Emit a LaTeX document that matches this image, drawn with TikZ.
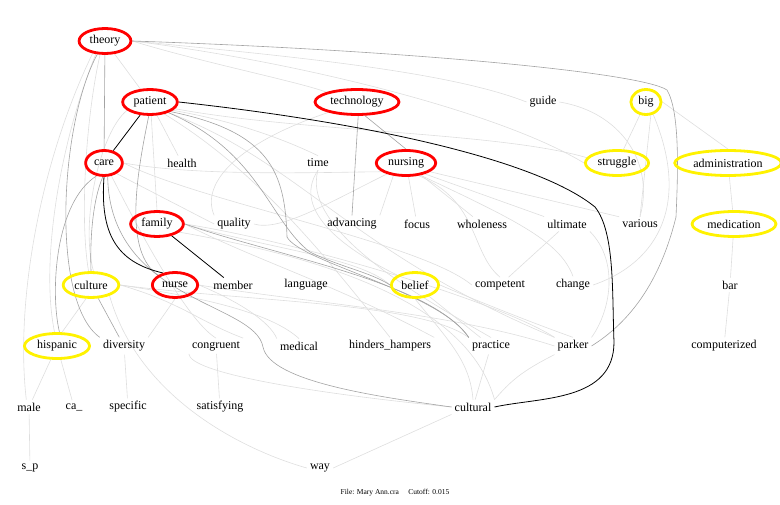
\documentclass[tikz,border=0pt]{standalone}
\usepackage{fontspec}
\setmainfont{Liberation Serif}
\usetikzlibrary{shapes.geometric,backgrounds}
\tikzset{
  word/.style={font=\fontsize{12}{14}\selectfont, inner sep=3pt},
  hot/.style={word, ellipse, draw=red, line width=2.8pt, minimum height=25pt},
  warm/.style={word, ellipse, draw=yellow, line width=2.8pt, minimum height=25pt},
  strong/.style={draw=black, line width=0.8pt},
  mid/.style={draw=black!36, line width=0.6pt},
  weak/.style={draw=black!13, line width=0.6pt},
}
\begin{document}
\begin{tikzpicture}[x=1pt,y=-1pt]
\useasboundingbox (0,-2) rectangle (780,503);
% row 1
\node[hot] (theory) at (105,39) {theory};
% row 2
\node[hot] (patient) at (150,100) {patient};
\node[hot] (technology) at (357,100) {technology};
\node[word] (guide) at (543,100) {guide};
\node[warm] (big) at (646,100) {big};
% row 3
\node[hot] (care) at (104,161) {care};
\node[word] (health) at (182,161) {health};
\node[word] (time) at (318,161) {time};
\node[hot] (nursing) at (406,161) {nursing};
\node[warm] (struggle) at (617,161) {struggle};
\node[warm] (administration) at (728,161) {administration};
% row 4
\node[hot] (family) at (157,222) {family};
\node[word] (quality) at (234,222) {quality};
\node[word] (advancing) at (352,222) {advancing};
\node[word] (focus) at (417,222) {focus};
\node[word] (wholeness) at (482,222) {wholeness};
\node[word] (ultimate) at (567,222) {ultimate};
\node[word] (various) at (640,222) {various};
\node[warm] (medication) at (734,222) {medication};
% row 5
\node[warm] (culture) at (91,283) {culture};
\node[hot] (nurse) at (175,283) {nurse};
\node[word] (member) at (233,283) {member};
\node[word] (language) at (306,283) {language};
\node[warm] (belief) at (415,283) {belief};
\node[word] (competent) at (500,283) {competent};
\node[word] (change) at (573,283) {change};
\node[word] (bar) at (730,283) {bar};
% row 6
\node[warm] (hispanic) at (57,344) {hispanic};
\node[word] (diversity) at (124,344) {diversity};
\node[word] (congruent) at (216,344) {congruent};
\node[word] (medical) at (299,344) {medical};
\node[word] (hinders) at (390,344) {hinders\_hampers};
\node[word] (practice) at (491,344) {practice};
\node[word] (parker) at (573,344) {parker};
\node[word] (computerized) at (724,344) {computerized};
% row 7
\node[word] (male) at (29,405) {male};
\node[word] (ca) at (74,405) {ca\_};
\node[word] (specific) at (128,405) {specific};
\node[word] (satisfying) at (220,405) {satisfying};
\node[word] (cultural) at (473,405) {cultural};
% row 8
\node[word] (sp) at (30,466) {s\_p};
\node[word] (way) at (320,466) {way};
\node[font=\fontsize{7.5}{9}\selectfont] (caption) at (395,491) {File: Mary Ann.cra\quad\ Cutoff: 0.015};

\begin{scope}[on background layer]
% weak links
\draw[weak] (theory) -- (patient);
\draw[weak] (theory.east) .. controls (200,60) and (300,80) .. (technology.north west);
\draw[weak] (theory.east) .. controls (300,55) and (450,70) .. (guide.west);
\draw[weak] (theory.east) .. controls (300,60) and (500,110) .. (struggle.west);
\draw[weak] (theory.250) .. controls (85,120) and (80,220) .. (culture.100);
\draw[weak] (theory.235) .. controls (60,140) and (40,260) .. (hispanic.100);
\draw[weak] (theory.225) .. controls (40,160) and (15,300) .. (male.110);
\draw[weak] (patient) -- (health);
\draw[weak] (patient.340) .. controls (240,120) and (290,140) .. (time.north);
\draw[weak] (patient.275) -- (family.north);
\draw[weak] (patient.200) .. controls (100,130) and (80,220) .. (culture.80);
\draw[weak] (patient.345) .. controls (300,130) and (500,130) .. (struggle.170);
\draw[weak] (patient.320) .. controls (260,170) and (330,260) .. (hinders.north);
\draw[weak] (patient.330) .. controls (300,160) and (350,250) .. (parker.north west);
\draw[weak] (technology.200) .. controls (240,140) and (200,180) .. (quality.north west);
\draw[weak] (guide.east) .. controls (620,110) and (655,160) .. (various.north);
\draw[weak] (big) -- (struggle);
\draw[weak] (big.290) -- (various.north);
\draw[weak] (big.east) -- (administration.north);
\draw[weak] (administration) -- (medication);
\draw[weak] (medication) -- (bar);
\draw[weak] (bar) -- (computerized);
\draw[weak] (big.300) .. controls (690,200) and (660,260) .. (change.east);
\draw[weak] (nursing) -- (focus);
\draw[weak] (nursing) -- (wholeness);
\draw[weak] (nursing.330) -- (ultimate.north west);
\draw[weak] (nursing.340) -- (various.north west);
\draw[weak] (nursing.225) -- (advancing.north east);
\draw[weak] (nursing.200) .. controls (330,170) and (200,175) .. (care.east);
\draw[weak] (nursing.210) .. controls (330,200) and (280,230) .. (quality.east);
\draw[weak] (nursing.320) .. controls (520,220) and (560,240) .. (change.north);
\draw[weak] (nursing.315) .. controls (480,200) and (470,250) .. (competent.north);
\draw[weak] (ultimate) -- (competent);
\draw[weak] (ultimate.south east) .. controls (620,260) and (610,310) .. (parker.north east);
\draw[weak] (time.south) .. controls (300,230) and (430,300) .. (practice.north);
\draw[weak] (time.south) .. controls (290,210) and (350,250) .. (belief.north west);
\draw[weak] (care.east) .. controls (200,200) and (420,240) .. (competent.west);
\draw[weak] (care.320) -- (quality.west);
\draw[weak] (care.300) .. controls (150,250) and (190,320) .. (congruent.north);
\draw[weak] (family.east) .. controls (260,260) and (330,280) .. (hinders.north east);
\draw[weak] (family.east) .. controls (300,240) and (500,300) .. (parker.north west);
\draw[weak] (family.340) .. controls (350,260) and (470,310) .. (cultural.north east);
\draw[weak] (family.east) .. controls (260,245) and (360,255) .. (belief.west);
\draw[weak] (culture.east) .. controls (180,300) and (200,320) .. (congruent.north east);
\draw[weak] (culture.east) .. controls (200,295) and (270,310) .. (medical.north);
\draw[weak] (culture.east) .. controls (250,300) and (420,300) .. (practice.north west);
\draw[weak] (culture.330) .. controls (140,400) and (250,450) .. (way.west);
\draw[weak] (culture.250) -- (hispanic.70);
\draw[weak] (nurse.south) -- (diversity.north east);
\draw[weak] (nurse.east) .. controls (240,300) and (270,320) .. (medical.north west);
\draw[weak] (nurse.east) .. controls (300,300) and (450,310) .. (parker.west);
\draw[weak] (belief) -- (practice);
\draw[weak] (belief.east) .. controls (480,300) and (530,320) .. (parker.north);
\draw[weak] (belief.south) .. controls (450,340) and (470,360) .. (cultural.north);
\draw[weak] (practice) -- (cultural);
\draw[weak] (parker.south west) .. controls (520,370) and (510,380) .. (cultural.north east);
\draw[weak] (cultural.south west) -- (way.east);
\draw[weak] (congruent.south west) .. controls (190,370) and (300,390) .. (cultural.west);
\draw[weak] (congruent) -- (satisfying);
\draw[weak] (diversity) -- (specific);
\draw[weak] (hispanic) -- (male);
\draw[weak] (hispanic) -- (ca);
\draw[weak] (male) -- (sp);
% mid links
\draw[mid] (theory) -- (care);
\draw[mid] (theory.east) .. controls (400,48) and (640,70) .. (667,88) .. controls (680,110) and (678,170) .. (676,215) .. controls (660,280) and (630,320) .. (parker.east);
\draw[mid] (theory.240) .. controls (60,120) and (50,300) .. (diversity.north west);
\draw[mid] (care.240) .. controls (55,200) and (50,290) .. (hispanic.80);
\draw[mid] (care.265) .. controls (92,200) and (90,240) .. (culture.north);
\draw[mid] (culture) -- (diversity);
\draw[mid] (patient.265) .. controls (135,180) and (125,250) .. (nurse.150);
\draw[mid] (patient.335) .. controls (270,130) and (285,170) .. (287,235) .. controls (300,260) and (440,290) .. (practice.north west);
\draw[mid] (patient.330) .. controls (260,150) and (270,220) .. (310,250) .. controls (340,265) and (370,270) .. (belief.west);
\draw[mid] (family.east) .. controls (280,255) and (430,280) .. (practice.north west);
\draw[mid] (technology.275) -- (advancing.north);
\draw[mid] (technology.300) -- (nursing.north);
\draw[mid] (care.285) .. controls (110,300) and (255,300) .. (263,345) .. controls (270,380) and (380,395) .. (cultural.west);
% strong links
\draw[strong] (patient) -- (care);
\draw[strong] (care.south) .. controls (100,230) and (115,260) .. (nurse.135);
\draw[strong] (family) -- (member);
\draw[strong] (patient.east) .. controls (380,122) and (540,160) .. (595,205) .. controls (615,230) and (612,290) .. (614,340) .. controls (614,400) and (540,395) .. (cultural.east);
\end{scope}
\end{tikzpicture}
\end{document}
